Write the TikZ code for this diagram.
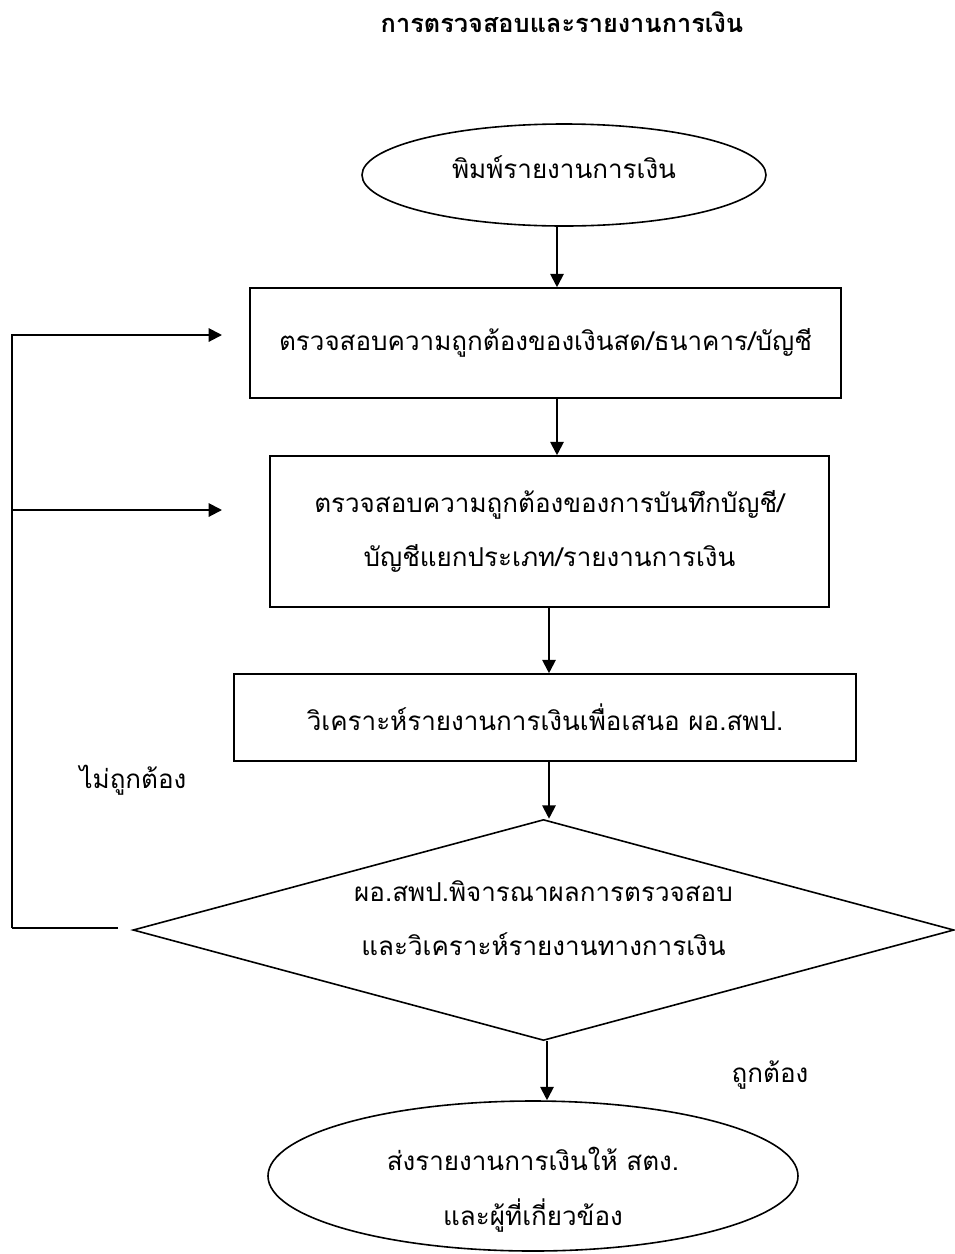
\documentclass[tikz,border=0pt]{standalone}
\usepackage{fontspec}
\usetikzlibrary{shapes.geometric,arrows.meta,calc}
\newfontfamily\thaifont[Script=Thai]{Loma}
\begin{document}
\begin{tikzpicture}[x=0.75pt,y=-0.75pt,
  every node/.style={font=\thaifont\fontsize{19.5pt}{41pt}\selectfont, text=black},
  box/.style={draw, line width=1.2pt, rectangle, inner sep=0pt},
  oval/.style={draw, line width=1.2pt, ellipse, inner sep=0pt},
  decide/.style={draw, line width=1.2pt, diamond, aspect=3.7, inner sep=0pt},
  caption/.style={align=center, inner sep=0pt},
  arr/.style={line width=1.5pt, -{Triangle[length=10pt,width=10pt]}},
  link/.style={line width=1.5pt}]
\useasboundingbox (0,0) rectangle (954,1254);

% title
\node[font=\thaifont\bfseries\fontsize{19pt}{22pt}\selectfont] (title) at (562,22) {การตรวจสอบและรายงานการเงิน};

% flow shapes
\node[oval, minimum width=303pt, minimum height=76.5pt] (start) at (564,175) {};
\node[caption] (starttext) at ($(start.center)+(0,-8)$) {พิมพ์รายงานการเงิน};
\node[box, minimum width=443.25pt, minimum height=82.5pt] (box1) at (545.5,343) {ตรวจสอบความถูกต้องของเงินสด/ธนาคาร/บัญชี};
\node[box, minimum width=419.25pt, minimum height=113.25pt, align=center] (box2) at (549.5,531.5)
  {ตรวจสอบความถูกต้องของการบันทึกบัญชี/\\บัญชีแยกประเภท/รายงานการเงิน};
\node[box, minimum width=466.5pt, minimum height=65.25pt] (box3) at (545,717.5) {วิเคราะห์รายงานการเงินเพื่อเสนอ ผอ.สพป.};
\node[decide, minimum width=615.75pt, minimum height=165.75pt] (dec) at (543.5,930) {};
\node[caption] (dectext) at ($(dec.center)+(0,-12)$)
  {ผอ.สพป.พิจารณาผลการตรวจสอบ\\และวิเคราะห์รายงานทางการเงิน};
\node[oval, minimum width=397.5pt, minimum height=112.5pt] (finish) at (533,1176) {};
\node[caption] (finishtext) at ($(finish.center)+(0,14)$)
  {ส่งรายงานการเงินให้ สตง.\\และผู้ที่เกี่ยวข้อง};

% branch labels
\node (no) at (133,780) {ไม่ถูกต้อง};
\node (yes) at (770,1075) {ถูกต้อง};

% main flow
\coordinate (xa) at (557,0);
\coordinate (xb) at (549,0);
\coordinate (xc) at (547,0);
\draw[arr] (start.south -| xa) -- (box1.north -| xa);
\draw[arr] (box1.south -| xa) -- (box2.north -| xa);
\draw[arr] (box2.south -| xb) -- (box3.north -| xb);
\draw[arr] (box3.south -| xb) -- (dec.north -| xb);
\draw[arr] (dec.south -| xc) -- (finish.north -| xc);

% return path
\coordinate (fb) at (118,928);
\coordinate (corner) at (12,928);
\coordinate (t1) at (222,335);
\coordinate (t2) at (222,510);
\draw[link] (fb) -- (corner);
\draw[arr] (corner) |- (t1);
\draw[arr] (corner |- t2) -- (t2);
\end{tikzpicture}
\end{document}
